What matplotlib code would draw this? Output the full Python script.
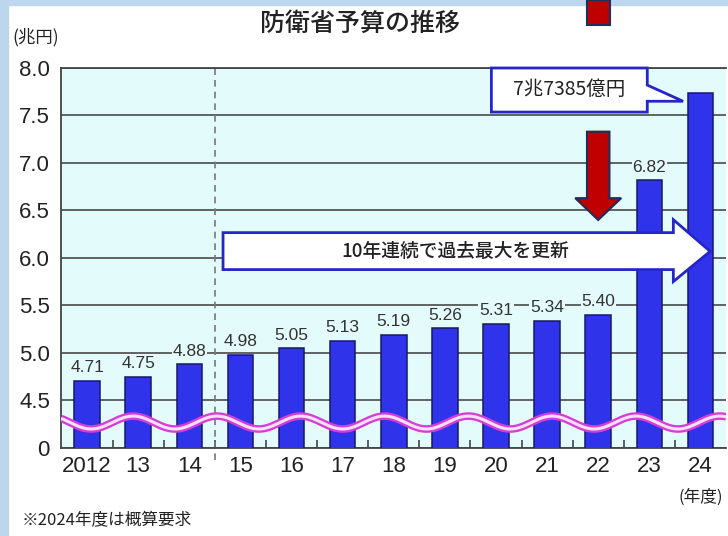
import numpy as np
import matplotlib.pyplot as plt
from matplotlib.patches import Polygon, Rectangle

plt.rcParams['font.family'] = ['Liberation Sans', 'Noto Sans CJK JP', 'DejaVu Sans']

years = ['2012', '13', '14', '15', '16', '17', '18', '19', '20', '21', '22', '23', '24']
budget = [4.71, 4.75, 4.88, 4.98, 5.05, 5.13, 5.19, 5.26, 5.31, 5.34, 5.40, 6.82, 7.7385]
value_labels = ['4.71', '4.75', '4.88', '4.98', '5.05', '5.13', '5.19', '5.26', '5.31', '5.34', '5.40', '6.82', '']
yticks = [4.0, 4.5, 5.0, 5.5, 6.0, 6.5, 7.0, 7.5, 8.0]
ytick_labels = ['0', '4.5', '5.0', '5.5', '6.0', '6.5', '7.0', '7.5', '8.0']

W, H = 728, 536
bg = '#e4fbfb'
jp = ['Noto Sans CJK JP', 'DejaVu Sans']

fig = plt.figure(figsize=(W / 100, H / 100), dpi=100)
fig.patch.set_facecolor('white')
fig.add_artist(Rectangle((0, 0), 8 / W, 1, transform=fig.transFigure, color='#bcd6ee', zorder=0))
fig.add_artist(Rectangle((0, 1 - 5 / H), 1, 5 / H, transform=fig.transFigure, color='#bcd6ee', zorder=0))

ax = fig.add_axes([61 / W, (H - 448) / H, (726 - 61) / W, (448 - 68) / H])
ax.set_facecolor(bg)
x = np.arange(len(years))

ax.bar(x, budget, width=0.5, color='#2f33ea', edgecolor='#18186a', linewidth=1.1, zorder=3)

ax.set_xlim(-0.51, 12.5)
ax.set_ylim(4, 8)
ax.set_yticks(yticks)
ax.set_yticklabels(ytick_labels, fontsize=16, color='#222222')
ax.set_xticks(x)
ax.set_xticklabels(years, fontsize=16, color='#222222')
ax.set_xticks(x[:-1] + 0.5, minor=True)
ax.tick_params(axis='x', which='major', length=0, pad=6)
ax.tick_params(axis='x', which='minor', direction='in', length=6, width=1.2, color='#444444')
ax.tick_params(axis='y', length=0, pad=8)
ax.yaxis.grid(True, color='#4a4a4a', linewidth=1.2, zorder=1)
ax.set_axisbelow(True)
ax.spines['right'].set_visible(False)
for s in ['left', 'bottom', 'top']:
    ax.spines[s].set_color('#444444')
    ax.spines[s].set_linewidth(1.3)

# dashed separator
ax.plot([2.5, 2.5], [3.87, 8], ls=(0, (4, 3)), color='#777777', lw=1.2, clip_on=False, zorder=2)

# value labels
for xi, v, t in zip(x, budget, value_labels):
    if t:
        ax.annotate(t, (xi, v), xytext=(0, 4), textcoords='offset points', ha='center', va='bottom',
                    fontsize=12.5, color='#333333', zorder=4,
                    bbox=dict(facecolor=bg, edgecolor='none', pad=0.5))

# axis break wave
wx = np.linspace(-0.51, 12.5, 600)
wy = 4.268 + 0.068 * np.cos(2 * np.pi * (wx - 2.54) / 1.64)
ax.plot(wx, wy, color='#d63cd6', lw=5.5, zorder=5, solid_capstyle='butt')
ax.plot(wx, wy, color='#fbe0fb', lw=2.2, zorder=6, solid_capstyle='butt')

# big arrow
arrow = Polygon([(2.66, 6.267), (11.47, 6.267), (11.47, 6.403), (12.19, 6.07),
                 (11.47, 5.752), (11.47, 5.878), (2.66, 5.878)],
                closed=True, facecolor='white', edgecolor='#2525c8', lw=2, zorder=7)
ax.add_patch(arrow)
ax.text(7.2, 6.07, '10年連続で過去最大を更新', ha='center', va='center', fontsize=13.5,
        family=jp, weight='medium', color='#222222', zorder=8)

# callout
call = Polygon([(7.91, 8.0), (10.96, 8.0), (10.96, 7.82), (11.66, 7.65), (10.96, 7.65),
                (10.96, 7.536), (7.91, 7.536)],
               closed=True, facecolor='white', edgecolor='#2525c8', lw=2, zorder=7, clip_on=False)
ax.add_patch(call)
ax.text(9.43, 7.77, '7兆7385億円', ha='center', va='center', fontsize=14,
        family=jp, color='#222222', zorder=8)

# red arrow
red = Polygon([(9.78, 7.33), (10.22, 7.33), (10.22, 6.63), (10.45, 6.63), (10.0, 6.40),
               (9.55, 6.63), (9.78, 6.63)],
              closed=True, facecolor='#c00000', edgecolor='#1f2f5a', lw=1.5, zorder=7)
ax.add_patch(red)
fig.add_artist(Rectangle((587 / W, 1 - 25 / H), 23 / W, 25 / H, transform=fig.transFigure,
                         facecolor='#c00000', edgecolor='#1f2f5a', lw=1.5, zorder=3))

fig.text(360 / W, 1 - 24 / H, '防衛省予算の推移', ha='center', va='center', fontsize=18,
         family=jp, weight='medium', color='#222222')
fig.text(12 / W, 1 - 37 / H, '(兆円)', ha='left', va='center', fontsize=12.5, family=jp, color='#222222')
fig.text(723 / W, 1 - 497 / H, '(年度)', ha='right', va='center', fontsize=12, family=jp, color='#222222')
fig.text(22 / W, 1 - 521 / H, '※2024年度は概算要求', ha='left', va='center', fontsize=12,
         family=jp, color='#222222')

fig.savefig('out.png', dpi=100)
